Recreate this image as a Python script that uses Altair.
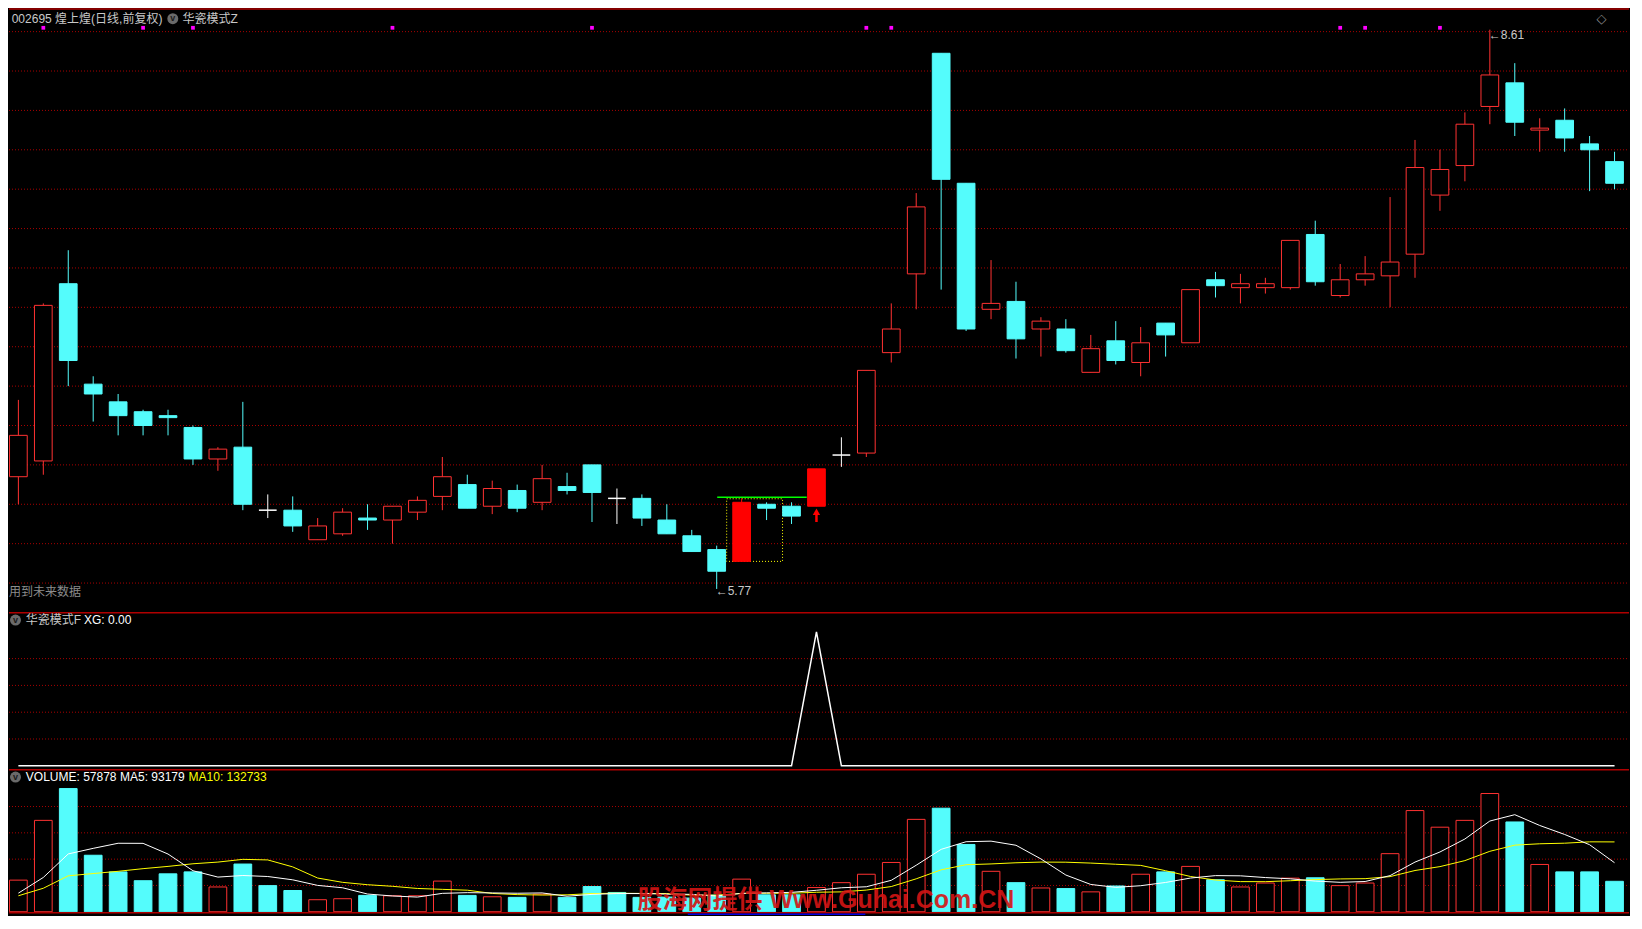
import altair as alt
import pandas as pd

# ---------------- data ----------------
opens = [6.34, 6.42, 7.32, 6.81, 6.72, 6.67, 6.65, 6.59, 6.43, 6.49,
         6.17, 6.17, 6.02, 6.05, 6.13, 6.12, 6.16, 6.24, 6.30, 6.19,
         6.27, 6.21, 6.29, 6.40, 6.23, 6.23, 6.12, 6.04, 5.97, 5.91,
         6.20, 6.19, 6.19, 6.45, 6.46, 6.97, 7.37, 8.49, 7.83, 7.19,
         7.23, 7.09, 7.09, 6.87, 7.03, 6.92, 7.12, 7.02, 7.34, 7.30,
         7.30, 7.30, 7.57, 7.26, 7.34, 7.36, 7.47, 7.77, 7.92, 8.22,
         8.34, 8.10, 8.15, 8.03, 7.94]
highs = [6.73, 7.22, 7.49, 6.85, 6.76, 6.68, 6.68, 6.60, 6.49, 6.72,
         6.25, 6.24, 6.13, 6.18, 6.20, 6.19, 6.24, 6.44, 6.35, 6.32,
         6.30, 6.40, 6.36, 6.40, 6.28, 6.25, 6.20, 6.07, 5.99, 6.23,
         6.21, 6.21, 6.38, 6.54, 6.88, 7.22, 7.78, 8.49, 7.83, 7.44,
         7.33, 7.15, 7.14, 7.06, 7.13, 7.10, 7.12, 7.29, 7.38, 7.37,
         7.35, 7.54, 7.64, 7.42, 7.46, 7.76, 8.05, 8.00, 8.19, 8.61,
         8.44, 8.16, 8.21, 8.07, 7.99]
lows = [6.20, 6.35, 6.80, 6.62, 6.55, 6.55, 6.55, 6.40, 6.37, 6.17,
        6.13, 6.06, 6.02, 6.04, 6.07, 6.00, 6.12, 6.17, 6.18, 6.15,
        6.16, 6.17, 6.25, 6.11, 6.10, 6.09, 6.05, 5.96, 5.77, 5.91,
        6.12, 6.10, 6.19, 6.39, 6.44, 6.92, 7.19, 7.29, 7.08, 7.14,
        6.94, 6.95, 6.97, 6.87, 6.91, 6.85, 6.95, 7.02, 7.25, 7.22,
        7.27, 7.29, 7.31, 7.25, 7.31, 7.20, 7.35, 7.69, 7.84, 8.13,
        8.07, 7.99, 7.99, 7.79, 7.80]
closes = [6.55, 7.21, 6.93, 6.76, 6.65, 6.60, 6.64, 6.43, 6.48, 6.20,
          6.17, 6.09, 6.09, 6.16, 6.12, 6.19, 6.22, 6.34, 6.18, 6.28,
          6.18, 6.33, 6.27, 6.26, 6.23, 6.13, 6.05, 5.96, 5.86, 6.21,
          6.18, 6.14, 6.38, 6.45, 6.88, 7.09, 7.71, 7.85, 7.09, 7.22,
          7.04, 7.13, 6.98, 6.99, 6.93, 7.02, 7.06, 7.29, 7.31, 7.32,
          7.32, 7.54, 7.33, 7.34, 7.37, 7.43, 7.91, 7.90, 8.13, 8.38,
          8.14, 8.11, 8.06, 8.00, 7.83]
signal_idx = [29, 32]
dot_idx = [1, 5, 7, 15, 23, 34, 35, 53, 54, 57]

volumes = [60100, 173700, 234100, 107400, 75800, 59000, 72100, 75800, 47100, 90700,
           49700, 40400, 22900, 24800, 31100, 30400, 30400, 58300, 31100, 28500,
           27400, 33500, 27400, 47900, 36700, 27400, 27900, 26100, 31700, 62000,
           32200, 32200, 46000, 55300, 71300, 93700, 175600, 196800, 127900, 76900,
           55300, 45200, 44100, 37800, 49000, 71300, 75800, 86200, 60900, 47100,
           54600, 63900, 64600, 49700, 54600, 110400, 192300, 160700, 173700, 224700,
           170700, 89900, 75800, 75800, 57878]
vol_color = ("r r c c c c c c r c "
             "c c r r c r r r c r "
             "c r c c c c c c c r "
             "c c r r r r r c c r "
             "c r c r c r c r c r "
             "r r c r r r r r r r "
             "c r c c c").split()
ma5 = [35400, 65200, 109900, 120500, 130200, 130000, 109700, 78000, 65900, 68900,
       67000, 60700, 50100, 45600, 33700, 30000, 27900, 35000, 36300, 35800,
       35200, 35800, 29600, 33000, 34600, 34600, 33500, 33100, 30000, 35000,
       35900, 36900, 40800, 45600, 47500, 59800, 88400, 118600, 133100, 134200,
       126400, 100400, 69800, 51900, 46400, 49500, 55700, 64100, 68700, 68300,
       65000, 62600, 58300, 56000, 57500, 68700, 94400, 113600, 138300, 172400,
       184500, 164000, 146900, 127400, 93179]
ma10 = [30400, 44700, 68300, 72600, 76900, 81900, 86200, 91200, 94400, 99600,
        98500, 85300, 64100, 55900, 51400, 48400, 44300, 42600, 41000, 34800,
        32600, 31800, 32200, 34600, 35200, 34800, 34600, 31500, 31500, 34800,
        35200, 35200, 37100, 37800, 41200, 47900, 62600, 79700, 89400, 90900,
        93100, 94400, 94200, 92500, 90300, 88100, 78000, 67000, 60300, 57300,
        57200, 59000, 61100, 62400, 62900, 66800, 78400, 85800, 97200, 114900,
        126600, 129200, 130300, 132900, 132733]
xg = [0, 0, 0, 0, 0, 0, 0, 0, 0, 0,
      0, 0, 0, 0, 0, 0, 0, 0, 0, 0,
      0, 0, 0, 0, 0, 0, 0, 0, 0, 0,
      0, 0, 1, 0, 0, 0, 0, 0, 0, 0,
      0, 0, 0, 0, 0, 0, 0, 0, 0, 0,
      0, 0, 0, 0, 0, 0, 0, 0, 0, 0,
      0, 0, 0, 0, 0]

price_grid = [5.8, 6.0, 6.2, 6.4, 6.6, 6.8, 7.0, 7.2, 7.4, 7.6, 7.8, 8.0, 8.2, 8.4, 8.6]
ind_grid = [0.2, 0.4, 0.6, 0.8]
vol_grid = [50000, 100000, 150000, 200000]

# pattern annotations (data units)
box_x = [28.4, 30.64]
box_p = [5.91, 6.228]
green_x = [28.02, 31.61]
green_p = 6.236
arrow_idx = 32
arrow_p = [6.162, 6.15, 6.11]

title_main = "002695 煌上煌(日线,前复权)"
title_z = "华瓷模式Z"
future_txt = "用到未来数据"
title_f = "华瓷模式F"
xg_txt = "XG: 0.00"
vol_txt = "VOLUME: 57878"
ma5_txt = "MA5: 93179"
ma10_txt = "MA10: 132733"
watermark = "股海网提供 Www.Guhai.Com.CN"

# ---------------- layout / style ----------------
W = 1620
H_MAIN, H_IND, H_VOL = 604, 157, 146
X_DOMAIN = [-0.376, 64.58]
P_DOMAIN = [5.653, 8.720]
I_DOMAIN = [-0.024, 1.148]
V_DOMAIN = [-6145, 271300]
HALF = 0.355

RED = "#ff3232"
CYAN = "#54fcfc"
SOLID_RED = "#ff0000"
GRID = "#a80000"
SEP = "#b00000"
TXT = "#c8c8c8"
FONT = "Liberation Sans, Noto Sans CJK SC"

xs = alt.Scale(domain=X_DOMAIN, nice=False, zero=False)
ps = alt.Scale(domain=P_DOMAIN, nice=False, zero=False)
is_ = alt.Scale(domain=I_DOMAIN, nice=False, zero=False)
vs = alt.Scale(domain=V_DOMAIN, nice=False, zero=False)

n = len(opens)
kinds = []
for k in range(n):
    if k in signal_idx:
        kinds.append("signal")
    elif closes[k] > opens[k]:
        kinds.append("up")
    elif closes[k] < opens[k]:
        kinds.append("down")
    else:
        kinds.append("doji")
stroke_map = {"up": RED, "down": CYAN, "doji": "#ffffff", "signal": SOLID_RED}
fill_map = {"up": "#000000", "down": CYAN, "doji": "#ffffff", "signal": SOLID_RED}

df = pd.DataFrame({
    "i": list(range(n)), "open": opens, "high": highs, "low": lows, "close": closes,
    "kind": kinds, "vol": volumes, "ma5": ma5, "ma10": ma10, "xg": xg, "vc": vol_color,
})
df["xl"] = df["i"] - HALF
df["xr"] = df["i"] + HALF
df["strokec"] = df["kind"].map(stroke_map)
df["fillc"] = df["kind"].map(fill_map)
df["vstroke"] = df["vc"].map({"r": RED, "c": CYAN})
df["vfill"] = df["vc"].map({"r": "#000000", "c": CYAN})
df["zero"] = 0

X = alt.X("i:Q", scale=xs, axis=None)


def px_text(text, x, y, color, size=12, align="left", weight="normal", font=FONT, opacity=1.0):
    return alt.Chart(pd.DataFrame({"t": [text]})).mark_text(
        align=align, baseline="middle", color=color, fontSize=size, font=font,
        fontWeight=weight, opacity=opacity
    ).encode(x=alt.value(x), y=alt.value(y), text="t:N")


def icon(x, y):
    c = alt.Chart(pd.DataFrame({"t": ["o"]})).mark_point(
        shape="circle", filled=True, size=120, color="#6a6a6a", opacity=1
    ).encode(x=alt.value(x), y=alt.value(y))
    return c + px_text("v", x, y - 0.5, "#1a1a1a", size=9, align="center", weight="bold")


def grid(values, scale):
    return alt.Chart(pd.DataFrame({"g": values})).mark_rule(
        color=GRID, strokeDash=[1, 2], strokeWidth=1
    ).encode(y=alt.Y("g:Q", scale=scale, axis=None), x=alt.value(0), x2=alt.value(W))


def sep(y, color=SEP, width=1.5):
    return alt.Chart(pd.DataFrame({"t": [0]})).mark_rule(color=color, strokeWidth=width).encode(
        y=alt.value(y), x=alt.value(0), x2=alt.value(W))


# ---------------- main candlestick panel ----------------
Y = alt.Y("low:Q", scale=ps, axis=None)
wicks = alt.Chart(df).mark_rule(strokeWidth=1).encode(
    x=X, y=Y, y2="high:Q", color=alt.Color("strokec:N", scale=None))
bodies = alt.Chart(df[df["kind"] != "doji"]).mark_rect(strokeWidth=1).encode(
    x=alt.X("xl:Q", scale=xs, axis=None), x2="xr:Q",
    y=alt.Y("open:Q", scale=ps, axis=None), y2="close:Q",
    fill=alt.Fill("fillc:N", scale=None), stroke=alt.Stroke("strokec:N", scale=None))
dojis = alt.Chart(df[df["kind"] == "doji"]).mark_rule(strokeWidth=1.5, color="#ffffff").encode(
    x=alt.X("xl:Q", scale=xs, axis=None), x2="xr:Q", y=alt.Y("close:Q", scale=ps, axis=None))

dots = alt.Chart(pd.DataFrame({"i": dot_idx})).mark_square(
    size=14, color="#ff00ff", filled=True, opacity=1).encode(x=X, y=alt.value(19.8))

box = alt.Chart(pd.DataFrame({"x1": [box_x[0]], "x2": [box_x[1]], "p1": [box_p[0]], "p2": [box_p[1]]})).mark_rect(
    fillOpacity=0, stroke="#ffff00", strokeWidth=1, strokeDash=[1, 2]).encode(
    x=alt.X("x1:Q", scale=xs, axis=None), x2="x2:Q",
    y=alt.Y("p1:Q", scale=ps, axis=None), y2="p2:Q")
green = alt.Chart(pd.DataFrame({"x1": [green_x[0]], "x2": [green_x[1]], "p": [green_p]})).mark_rule(
    color="#00ff00", strokeWidth=1.5).encode(
    x=alt.X("x1:Q", scale=xs, axis=None), x2="x2:Q", y=alt.Y("p:Q", scale=ps, axis=None))

arrow_head = alt.Chart(pd.DataFrame({"i": [arrow_idx], "p": [arrow_p[0]]})).mark_point(
    shape="triangle-up", filled=True, size=55, color=SOLID_RED, opacity=1).encode(
    x=X, y=alt.Y("p:Q", scale=ps, axis=None))
arrow_stem = alt.Chart(pd.DataFrame({"i": [arrow_idx], "p1": [arrow_p[1]], "p2": [arrow_p[2]]})).mark_rule(
    color=SOLID_RED, strokeWidth=2.5).encode(
    x=X, y=alt.Y("p1:Q", scale=ps, axis=None), y2="p2:Q")

hi_i = highs.index(max(highs))
lo_i = lows.index(min(lows))
hi_lab = alt.Chart(pd.DataFrame({"i": [hi_i], "p": [max(highs)], "t": ["\u2190" + f"{max(highs):.2f}"]})).mark_text(
    align="left", baseline="middle", color=TXT, fontSize=12, font=FONT, dy=5, dx=-1).encode(
    x=X, y=alt.Y("p:Q", scale=ps, axis=None), text="t:N")
lo_lab = alt.Chart(pd.DataFrame({"i": [lo_i], "p": [min(lows)], "t": ["\u2190" + f"{min(lows):.2f}"]})).mark_text(
    align="left", baseline="middle", color=TXT, fontSize=12, font=FONT, dy=2, dx=-1).encode(
    x=X, y=alt.Y("p:Q", scale=ps, axis=None), text="t:N")

main = alt.layer(
    grid(price_grid, ps), sep(1),
    box, green, wicks, bodies, dojis, dots, arrow_stem, arrow_head, hi_lab, lo_lab,
    px_text(title_main, 2.7, 10.7, TXT),
    icon(163.8, 10.7),
    px_text(title_z, 173.6, 10.7, TXT),
    px_text("\u25c7", 1592.6, 10.7, "#8a8a8a", size=13, align="center", font="DejaVu Sans"),
    px_text(future_txt, 0, 583.5, "#8c8c8c"),
).properties(width=W, height=H_MAIN)

# ---------------- indicator panel ----------------
xg_line = alt.Chart(df).mark_line(color="#ffffff", strokeWidth=1.5).encode(
    x=X, y=alt.Y("xg:Q", scale=is_, axis=None))
ind = alt.layer(
    grid(ind_grid, is_), sep(0.75), xg_line,
    icon(6.5, 8.1),
    px_text(title_f, 16.8, 8.1, TXT),
    px_text(xg_txt, 75, 8.1, "#ffffff"),
).properties(width=W, height=H_IND)

# ---------------- volume panel ----------------
vbars = alt.Chart(df).mark_rect(strokeWidth=1).encode(
    x=alt.X("xl:Q", scale=xs, axis=None), x2="xr:Q",
    y=alt.Y("vol:Q", scale=vs, axis=None), y2="zero:Q",
    fill=alt.Fill("vfill:N", scale=None), stroke=alt.Stroke("vstroke:N", scale=None))
ma5_line = alt.Chart(df).mark_line(color="#ffffff", strokeWidth=1).encode(
    x=X, y=alt.Y("ma5:Q", scale=vs, axis=None))
ma10_line = alt.Chart(df).mark_line(color="#ffff00", strokeWidth=1).encode(
    x=X, y=alt.Y("ma10:Q", scale=vs, axis=None))
bottom_line = alt.Chart(pd.DataFrame({"v": [-1900]})).mark_rule(color=SEP, strokeWidth=1.5).encode(
    y=alt.Y("v:Q", scale=vs, axis=None), x=alt.value(0), x2=alt.value(W))
blue_seg = alt.Chart(pd.DataFrame({"x1": [26.84], "x2": [33.96], "v": [-4800]})).mark_rule(
    color="#0000e0", strokeWidth=1.5).encode(
    x=alt.X("x1:Q", scale=xs, axis=None), x2="x2:Q", y=alt.Y("v:Q", scale=vs, axis=None))

vol = alt.layer(
    grid(vol_grid, vs), sep(0.75), vbars, ma10_line, ma5_line, bottom_line, blue_seg,
    icon(6.5, 8.1),
    px_text(vol_txt, 16.8, 8.1, "#ffffff"),
    px_text(ma5_txt, 111, 8.1, "#ffffff"),
    px_text(ma10_txt, 179.6, 8.1, "#ffff00"),
    px_text(watermark, 628.5, 131, "#d41414", size=25, weight="bold", opacity=0.9),
).properties(width=W, height=H_VOL)

chart = alt.vconcat(main, ind, vol, spacing=0).resolve_scale(
    x="independent", y="independent"
).properties(background="#000000", padding=0).configure_view(stroke=None)

chart.save("out.html", embed_options={"renderer": "svg", "actions": False})
